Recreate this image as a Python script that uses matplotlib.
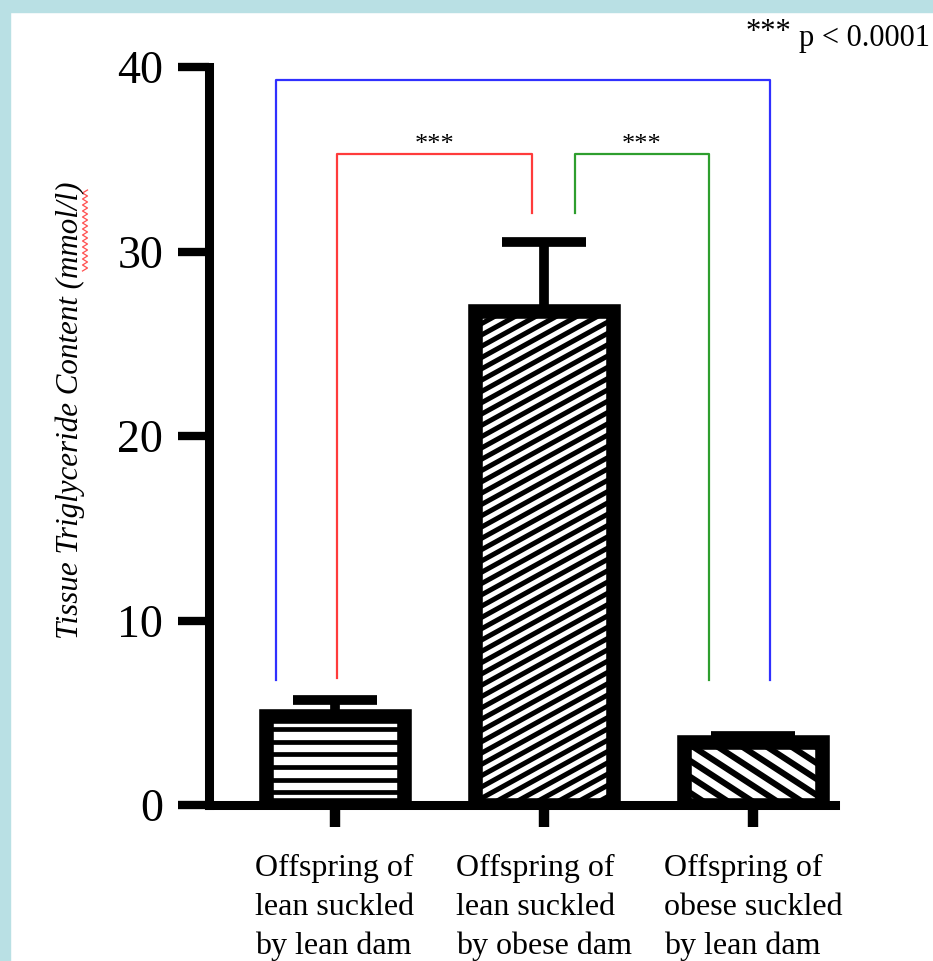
import matplotlib
matplotlib.use("Agg")
import matplotlib.pyplot as plt
from matplotlib.lines import Line2D
from matplotlib.patches import Rectangle
from matplotlib.transforms import IdentityTransform
import numpy as np

# tissue triglyceride per group (mmol/l), mean and SEM
groups = [
    "Offspring of\nlean suckled\nby lean dam",
    "Offspring of\nlean suckled\nby obese dam",
    "Offspring of\nobese suckled\nby lean dam",
]
means = [4.8, 26.8, 3.4]
sem = [0.9, 3.7, 0.35]
y_ticks = [0, 10, 20, 30, 40]

# stripe fill per bar: slope (pixel dy/dx), vertical step in px, line width in pt
stripes = [(0.0, 12.7, 3.4), (0.55, 11.3, 3.6), (-0.65, 16.0, 4.4)]

# comparison brackets: left x, right x, top, left foot, right foot, colour, stars
brackets = [
    (-0.28, 2.08, 39.3, 6.8, 6.8, "#3030ff", ""),
    (0.01, 0.945, 35.3, 6.9, 32.1, "#ff3b3b", "***"),
    (1.146, 1.79, 35.3, 32.1, 6.8, "#2e9e2e", "***"),
]

plt.rcParams["font.family"] = ["Liberation Serif", "DejaVu Serif"]

W, H = 933, 961
fig = plt.figure(figsize=(W / 100, H / 100), dpi=100)
fig.patch.set_facecolor("white")

# light blue frame on the left and top
frame = "#b9e0e4"
fig.add_artist(Rectangle((0, 0), 10 / W, 1, transform=fig.transFigure,
                         color=frame, zorder=0))
fig.add_artist(Rectangle((0, 1 - 12 / H), 1, 12 / H, transform=fig.transFigure,
                         color=frame, zorder=0))

ax = fig.add_axes([209 / W, 1 - 805 / H, (835 - 209) / W, (805 - 67) / H])
x = np.arange(len(means))
ax.set_xlim(-0.6, 2.39)
ax.set_ylim(0, 40)

bars = ax.bar(x, means, width=0.66, color="white", edgecolor="black",
              linewidth=10.5, zorder=2)


def stripe_fill(bar, slope, step, lw):
    # diagonal / horizontal stripes clipped to the bar outline
    (x0, y0), (x1, y1) = ax.transData.transform(
        [(bar.get_x(), 0), (bar.get_x() + bar.get_width(), bar.get_height())])
    lo = min(0.0, -slope * (x1 - x0)) - step
    hi = (y1 - y0) + max(0.0, -slope * (x1 - x0)) + step
    for c in np.arange(lo, hi, step):
        ln = Line2D([x0, x1], [y0 + c, y0 + c + slope * (x1 - x0)],
                    transform=IdentityTransform(), color="black", lw=lw,
                    zorder=2.2)
        ax.add_artist(ln)
        ln.set_clip_path(bar)


for b, (slope, step, lw) in zip(bars, stripes):
    stripe_fill(b, slope, step, lw)

ax.errorbar(x, means, yerr=[[0] * len(sem), sem], fmt="none", ecolor="black",
            elinewidth=7, capsize=30, capthick=7, zorder=3)

for xl, xr, top, yl, yr, c, s in brackets:
    ax.plot([xl, xl, xr, xr], [yl, top, top, yr], color=c, lw=1.6,
            clip_on=False, zorder=4)
    if s:
        ax.text((xl + xr) / 2, top - 0.1, s, ha="center", va="bottom",
                fontsize=19)

for side in ["top", "right"]:
    ax.spines[side].set_visible(False)
for side in ["left", "bottom"]:
    ax.spines[side].set_linewidth(6.5)

ax.set_yticks(y_ticks)
ax.tick_params(axis="y", length=22, width=6, labelsize=33, pad=11)
ax.set_xticks(x)
ax.set_xticklabels(groups, fontsize=23, linespacing=1.42, multialignment="left")
ax.tick_params(axis="x", length=16, width=7.5, pad=19.5)

fig.text(70 / W, 1 - 410 / H, "Tissue Triglyceride Content (mmol/l)",
         rotation=90, ha="center", va="center", fontsize=22.3, style="italic")

# spell-check squiggle under the unit
ys = np.arange(190, 272, 3)
xs = 85 + 2.5 * (-1) ** np.arange(len(ys))
fig.add_artist(Line2D(xs / W, 1 - ys / H, transform=fig.transFigure,
                      color="#ff5050", lw=0.9))

fig.text(791 / W, 1 - 40 / H, "***", ha="right", va="baseline", fontsize=22)
fig.text(930 / W, 1 - 46 / H, "p < 0.0001", ha="right", va="baseline",
         fontsize=22)

fig.savefig("out.png", dpi=100)
